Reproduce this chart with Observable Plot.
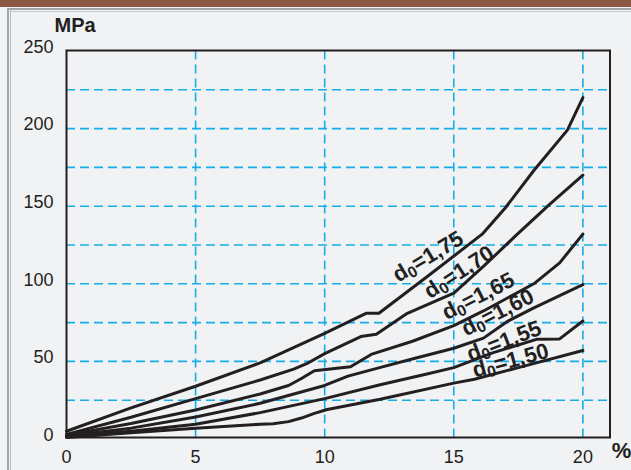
<!DOCTYPE html>
<html>
<head>
<meta charset="utf-8">
<script src="https://cdn.jsdelivr.net/npm/d3@7"></script>
<script src="https://cdn.jsdelivr.net/npm/@observablehq/plot@0.6"></script>
<style>
  html, body { margin: 0; padding: 0; background: #f1f2f4; }
  #wrap { position: relative; width: 631px; height: 470px; overflow: hidden; background: #f1f2f4; font-family: "Liberation Sans", Arial, Helvetica, sans-serif; }
  .deco { position: absolute; }
  #chart { position: absolute; left: 0; top: 0; }
</style>
</head>
<body>
<div id="wrap">
  <div class="deco" style="left:0;top:0;width:631px;height:7px;background:#8c5846;"></div>
  <div class="deco" style="left:7px;top:8px;width:624px;height:2px;background:#a3a5a8;"></div>
  <div class="deco" style="left:7px;top:8px;width:1.5px;height:462px;background:#a3a5a8;"></div>
  <div class="deco" style="left:10px;top:10px;width:1px;height:460px;background:#b8babd;"></div>
  <div class="deco" style="left:10px;top:11px;width:621px;height:1px;background:#c4c6c9;"></div>
  <div id="chart"></div>
</div>
<script>
// ---- data ----
const xTicks = [0, 5, 10, 15, 20];
const yTicks = [0, 50, 100, 150, 200, 250];
const gridXTicks = [5, 10, 15, 20];
const gridYTicks = [25, 50, 75, 100, 125, 150, 175, 200, 225];

const seriesNames = ["d0=1,75", "d0=1,70", "d0=1,65", "d0=1,60", "d0=1,55", "d0=1,50"];

const d175x = [0, 2.5, 5, 7.5, 10, 11.6, 12.1, 14, 16.1, 17, 18.1, 19.4, 20];
const d175y = [5, 20, 34, 49, 68, 81, 81, 105, 132, 149, 173, 199, 220];

const d170x = [0, 2.5, 5, 7.5, 8.8, 9.3, 10, 11.4, 12, 13.2, 15, 16.2, 17.4, 18.7, 20];
const d170y = [3, 14, 26, 38, 45, 48.5, 55, 66, 67.5, 81, 94, 112, 131, 151, 170];

const d165x = [0, 2.5, 5, 7.5, 8.6, 9.1, 9.6, 11.0, 11.8, 13.4, 15, 16.15, 18.1, 19.1, 20];
const d165y = [2.5, 10, 18.7, 29, 34.5, 39, 44, 46.5, 54.5, 63, 73, 82.5, 100, 113.5, 132];

const d160x = [0, 2.5, 5, 7.5, 8.7, 10, 10.9, 12.2, 13.5, 15, 16.15, 17.1, 18.1, 20];
const d160y = [2, 7, 14.2, 23, 28.5, 34.5, 40.5, 46.3, 52, 58.5, 65, 76, 84.5, 99.5];

const d155x = [0, 2.5, 5, 7.5, 10, 12.15, 14, 15, 16.5, 18.2, 19.1, 20];
const d155y = [1.5, 5, 9.5, 17, 26, 35, 42, 46, 55.5, 64.2, 64.5, 76];

const d150x = [0, 2.5, 5, 7.5, 8.0, 8.6, 9.1, 9.6, 10.1, 12.15, 15, 15.8, 17.5, 20];
const d150y = [1, 4, 7, 9.5, 9.8, 11.2, 13.5, 16.5, 19, 25.6, 36, 38.5, 46, 57];

const seriesX = [d175x, d170x, d165x, d160x, d155x, d150x];
const seriesY = [d175y, d170y, d165y, d160y, d155y, d150y];

// label placement (data coordinates) and angle
const labelX = [14.0, 15.2, 15.95, 16.7, 16.95, 17.2];
const labelY = [117.5, 107.5, 92, 81.5, 63, 50.5];
const labelAngle = [-31, -33, -27, -27, -21, -15];

// ---- build tables ----
const rows = [];
seriesNames.forEach((name, i) => {
  seriesX[i].forEach((xv, j) => rows.push({series: name, x: xv, y: seriesY[i][j]}));
});
const labels = seriesNames.map((name, i) => ({text: name, x: labelX[i], y: labelY[i], angle: labelAngle[i]}));

const ink = "#231f20";
const gridColor = "#16aee8";
const font = "'Liberation Sans', Arial, Helvetica, sans-serif";

const chart = Plot.plot({
  width: 631,
  height: 470,
  marginLeft: 66,
  marginRight: 21.5,
  marginTop: 50.5,
  marginBottom: 31.5,
  style: {background: "transparent", fontFamily: font, color: ink},
  x: {domain: [0, 21.05]},
  y: {domain: [0, 250]},
  marks: [
    Plot.gridX(gridXTicks, {stroke: gridColor, strokeOpacity: 1, strokeWidth: 1.6, strokeDasharray: "9,5"}),
    Plot.gridY(gridYTicks, {stroke: gridColor, strokeOpacity: 1, strokeWidth: 1.6, strokeDasharray: "9,5"}),
    Plot.axisY(yTicks, {tickSize: 0, tickPadding: 13, fontSize: 18, dy: -4, fill: ink, label: null}),
    Plot.axisX(xTicks, {tickSize: 0, tickPadding: 11, fontSize: 18, fill: ink, label: null}),
    Plot.line(rows, {x: "x", y: "y", z: "series", stroke: ink, strokeWidth: 3, strokeLinejoin: "round"}),
    Plot.frame({stroke: ink, strokeWidth: 2, insetTop: -0.5, insetBottom: 1.5}),
    Plot.text(labels, {x: "x", y: "y", text: "text", rotate: "angle", fontSize: 22, fontWeight: "bold", fill: ink, textAnchor: "middle", lineAnchor: "middle"}),
    Plot.text(["MPa"], {frameAnchor: "top-left", dx: -12, dy: -25.5, textAnchor: "start", lineAnchor: "middle", fontSize: 20, fontWeight: "bold", fill: ink}),
    Plot.text(["%"], {frameAnchor: "bottom-right", dx: 11.5, dy: 11.5, textAnchor: "middle", lineAnchor: "middle", fontSize: 22, fontWeight: "bold", fill: ink})
  ]
});

document.getElementById("chart").appendChild(chart);

// subscript the "0" of d0 in the curve labels
d3.select(chart).selectAll("text").each(function() {
  const t = this.textContent;
  if (t.startsWith("d0=")) {
    const sel = d3.select(this);
    sel.text(null);
    sel.append("tspan").text("d");
    sel.append("tspan").attr("font-size", "0.72em").attr("dy", "0.22em").text("0");
    sel.append("tspan").attr("dy", "-0.16em").text(t.slice(2));
  }
});
</script>
</body>
</html>
